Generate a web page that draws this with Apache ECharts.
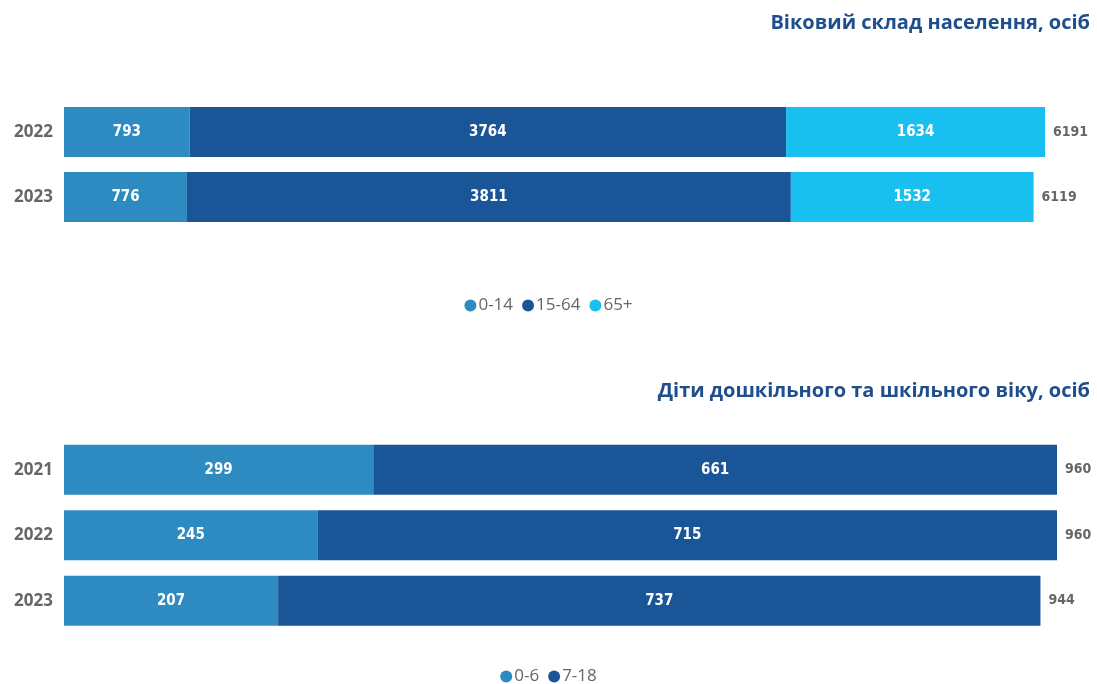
<!DOCTYPE html>
<html><head><meta charset="utf-8">
<script src="https://cdn.jsdelivr.net/npm/echarts@6/dist/echarts.min.js"></script>
<style>html,body{margin:0;padding:0;background:#fff}#c{width:1097px;height:684px}</style>
</head><body><div id="c"></div>
<script>
const title1 = 'Віковий склад населення, осіб';
const title2 = 'Діти дошкільного та шкільного віку, осіб';
const years1 = ['2022', '2023'];
const age0_14 = [793, 776];
const age15_64 = [3764, 3811];
const age65 = [1634, 1532];
const years2 = ['2021', '2022', '2023'];
const kids0_6 = [299, 245, 207];
const kids7_18 = [661, 715, 737];

const total1 = years1.map((_, i) => age0_14[i] + age15_64[i] + age65[i]);
const total2 = years2.map((_, i) => kids0_6[i] + kids7_18[i]);

const cLight = '#2E8BC1', cDark = '#1A5598', cCyan = '#17C0EE';
const segLabel = {show: true, position: 'inside', color: '#fff', fontWeight: 'bold', fontSize: 15, fontFamily: 'DejaVu Sans Condensed'};
const totLabel = {show: true, position: 'right', distance: 8, color: '#666', fontWeight: 'bold', fontSize: 14, fontFamily: 'DejaVu Sans Condensed'};

function yAx(gi, data) {
  return {type: 'category', gridIndex: gi, data: data, inverse: true,
    axisLine: {show: false}, axisTick: {show: false},
    axisLabel: {color: '#666', fontWeight: 'bold', fontSize: 17, fontFamily: 'Open Sans', margin: 11}};
}
function xAx(gi, max) {
  return {type: 'value', gridIndex: gi, min: 0, max: max, show: false, splitLine: {show: false}};
}
function seg(name, gi, data, color, stack) {
  return {name: name, type: 'bar', xAxisIndex: gi, yAxisIndex: gi, stack: stack, data: data,
    barWidth: 50, itemStyle: {color: color}, label: segLabel, emphasis: {disabled: true}};
}
function tot(gi, data) {
  return {type: 'bar', xAxisIndex: gi, yAxisIndex: gi, data: data, barWidth: 50, barGap: '-100%',
    itemStyle: {color: 'rgba(0,0,0,0)'}, label: totLabel, silent: true, z: 1};
}
const legendText = {color: '#666', fontSize: 17, fontFamily: 'Open Sans', padding: [0, 0, 0, -3]};

const chart = echarts.init(document.getElementById('c'));
chart.setOption({
  animation: false,
  title: [
    {text: title1, right: 2, top: 8, textStyle: {color: '#1F4E8D', fontSize: 20, fontWeight: 'bold', fontFamily: 'Open Sans'}},
    {text: title2, right: 2, top: 376, textStyle: {color: '#1F4E8D', fontSize: 20, fontWeight: 'bold', fontFamily: 'Open Sans'}}
  ],
  legend: [
    {data: ['0-14', '15-64', '65+'], top: 292, left: 'center', icon: 'circle', itemWidth: 12, itemHeight: 12, itemGap: 9, textStyle: legendText},
    {data: ['0-6', '7-18'], top: 663, left: 'center', icon: 'circle', itemWidth: 12, itemHeight: 12, itemGap: 9, textStyle: legendText}
  ],
  grid: [
    {left: 64, right: 52, top: 99.5, height: 130, containLabel: false},
    {left: 64, right: 40, top: 437, height: 196.5, containLabel: false}
  ],
  xAxis: [xAx(0, 6191), xAx(1, 960)],
  yAxis: [yAx(0, years1), yAx(1, years2)],
  series: [
    seg('0-14', 0, age0_14, cLight, 'a'),
    seg('15-64', 0, age15_64, cDark, 'a'),
    seg('65+', 0, age65, cCyan, 'a'),
    tot(0, total1),
    seg('0-6', 1, kids0_6, cLight, 'b'),
    seg('7-18', 1, kids7_18, cDark, 'b'),
    tot(1, total2)
  ]
});
</script></body></html>
